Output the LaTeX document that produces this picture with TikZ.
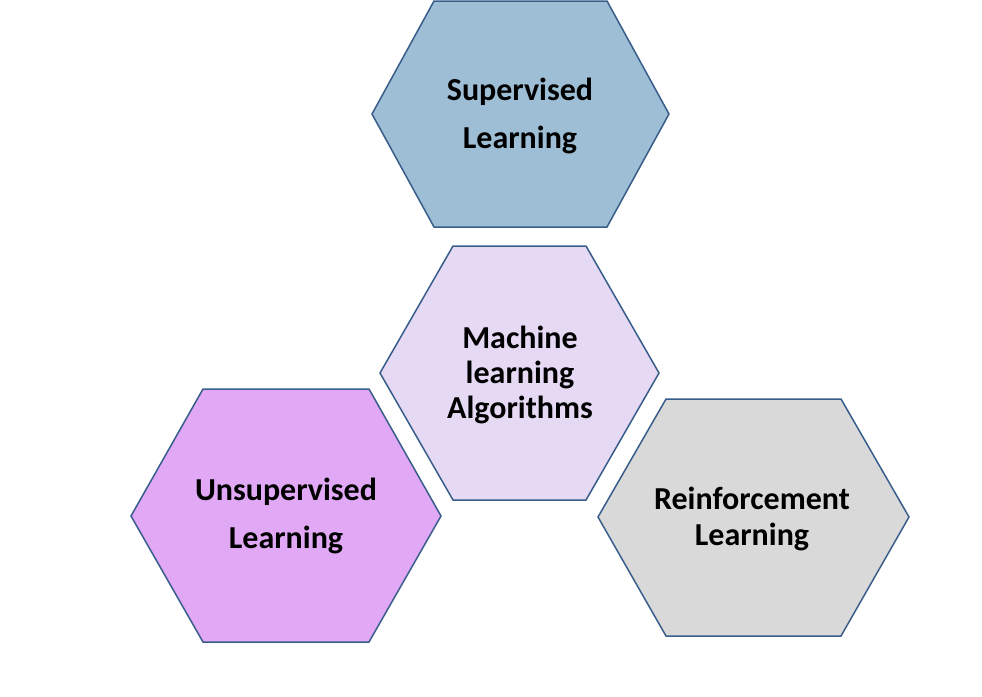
\documentclass[tikz,border=0pt]{standalone}
\usepackage{fontspec}
\setmainfont{Carlito}
\definecolor{hexline}{HTML}{385D8A}
\definecolor{supfill}{HTML}{9DBED4}
\definecolor{mlfill}{HTML}{E6D9F4}
\definecolor{unsfill}{HTML}{E1A8F5}
\definecolor{reifill}{HTML}{D9D9D9}
\tikzset{
  hexa/.style={draw=hexline, line width=1.5pt, line join=miter},
  lbl/.style={align=center, font=\bfseries\fontsize{32}{48}\selectfont}
}
\begin{document}
\begin{tikzpicture}[x=1pt,y=-1pt]
\useasboundingbox (0,0) rectangle (982,696);
\path[hexa,fill=supfill] (372,114) -- (434,1) -- (607,1) -- (669,114) -- (607,227) -- (434,227) -- cycle;
\path[hexa,fill=mlfill] (380,373) -- (453,246) -- (586,246) -- (659,373) -- (586,500) -- (453,500) -- cycle;
\path[hexa,fill=unsfill] (131,516) -- (203,389) -- (369,389) -- (441,516) -- (369,642) -- (203,642) -- cycle;
\path[hexa,fill=reifill] (598,517) -- (666,399) -- (841,399) -- (909,517) -- (841,636) -- (666,636) -- cycle;

\node[lbl] (sup) at (520,116) {Supervised\\Learning};
\node[lbl,font=\bfseries\fontsize{32}{35}\selectfont] (ml) at (520,375) {Machine\\learning\\Algorithms};
\node[lbl] (uns) at (286,516) {Unsupervised\\Learning};
\node[lbl,font=\bfseries\fontsize{32}{36}\selectfont] (rei) at (752,519) {Reinforcement\\Learning};
\end{tikzpicture}
\end{document}
